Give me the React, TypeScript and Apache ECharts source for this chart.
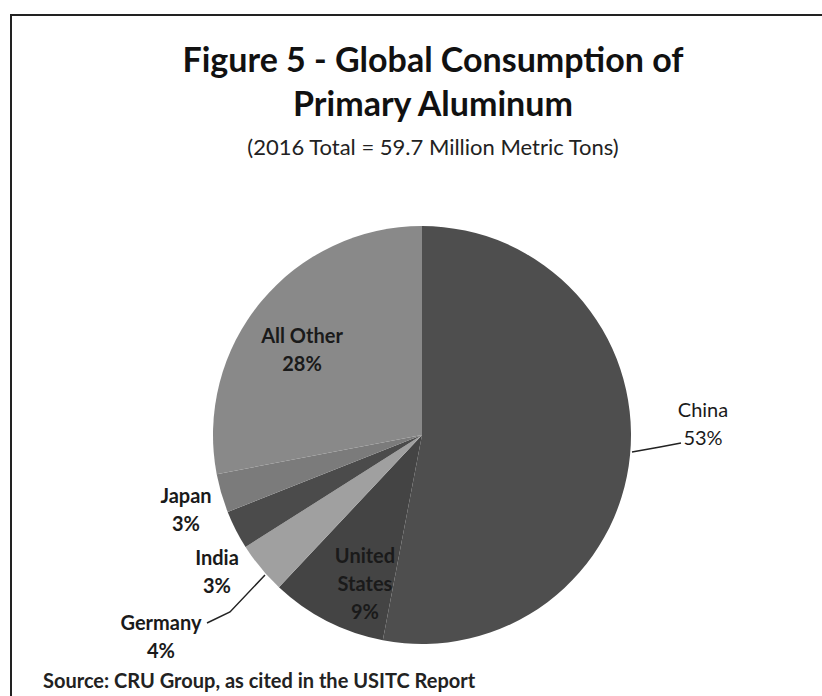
import React, { useEffect, useRef } from "react";
import * as echarts from "echarts";

const categories = ["China", "United States", "Germany", "India", "Japan", "All Other"];
const shares = [53, 9, 4, 3, 3, 28];
const sliceColors = ["#4e4e4e", "#444444", "#a0a0a0", "#4b4b4b", "#7b7b7b", "#898989"];
const titleLines = ["Figure 5 - Global Consumption of", "Primary Aluminum"];
const subtitle = "(2016 Total = 59.7 Million Metric Tons)";
const sourceNote = "Source: CRU Group, as cited in the USITC Report";

const labelText: Record<string, string> = {
  "United States": "United\nStates",
};

// label centre positions (layout only)
const labelSpots: Record<number, [number, number]> = {
  0: [703, 423],
  1: [365, 583],
  2: [161, 636],
  3: [217, 571],
  4: [186, 509],
  5: [302, 349],
};
const leaderLines: Record<number, number[][]> = {
  0: [[632, 452], [660, 447], [681, 443]],
  2: [[265, 575], [230, 612], [207, 623]],
};

export default function App() {
  const ref = useRef<HTMLDivElement>(null);
  useEffect(() => {
    if (!ref.current) return;
    const chart = echarts.init(ref.current, undefined, { renderer: "svg" });
    const font = "Lato, 'Open Sans', sans-serif";
    chart.setOption({
      animation: false,
      backgroundColor: "#ffffff",
      title: [
        {
          text: titleLines.join("\n"),
          left: 428,
          top: 31,
          textAlign: "center",
          textStyle: {
            fontFamily: font,
            fontSize: 34,
            fontWeight: "bold",
            color: "#111111",
            lineHeight: 44,
          },
        },
        {
          text: subtitle,
          left: 428,
          top: 130,
          textAlign: "center",
          textStyle: {
            fontFamily: font,
            fontSize: 22,
            fontWeight: "normal",
            color: "#222222",
          },
        },
        {
          text: sourceNote,
          left: 38,
          top: 665,
          textStyle: {
            fontFamily: font,
            fontSize: 20,
            fontWeight: "bold",
            color: "#222222",
          },
        },
      ],
      graphic: [
        {
          type: "polyline",
          shape: { points: [[11, 700], [11, 15], [830, 15]] },
          style: { stroke: "#222222", lineWidth: 2, fill: "none" },
          silent: true,
        },
      ],
      series: [
        {
          type: "pie",
          center: [422, 435],
          radius: 209,
          startAngle: 90,
          clockwise: true,
          avoidLabelOverlap: false,
          itemStyle: { borderWidth: 0 },
          label: {
            show: true,
            position: "inside",
            fontFamily: font,
            fontSize: 20,
            fontWeight: "bold",
            color: "#1a1a1a",
            lineHeight: 28,
            align: "center",
            formatter: (p: any) => `${labelText[p.name] ?? p.name}\n${p.value}%`,
          },
          labelLine: {
            show: false,
            lineStyle: { color: "#222222", width: 1.5 },
          },
          labelLayout: (p: any) => {
            const spot = labelSpots[p.dataIndex];
            const out: any = {
              x: spot[0],
              y: spot[1],
              align: "center",
              verticalAlign: "middle",
            };
            if (leaderLines[p.dataIndex]) out.labelLinePoints = leaderLines[p.dataIndex];
            return out;
          },
          data: categories.map((name, i) => ({
            name,
            value: shares[i],
            itemStyle: { color: sliceColors[i] },
            label:
              i === 0
                ? { position: "outside", fontWeight: "normal" }
                : i === 2
                ? { position: "outside" }
                : undefined,
            labelLine: i === 0 || i === 2 ? { show: true } : undefined,
          })),
        },
      ],
    });
    return () => chart.dispose();
  }, []);
  return (
    <div
      ref={ref}
      style={{ position: "fixed", left: 0, top: 0, width: 822, height: 696 }}
    />
  );
}
